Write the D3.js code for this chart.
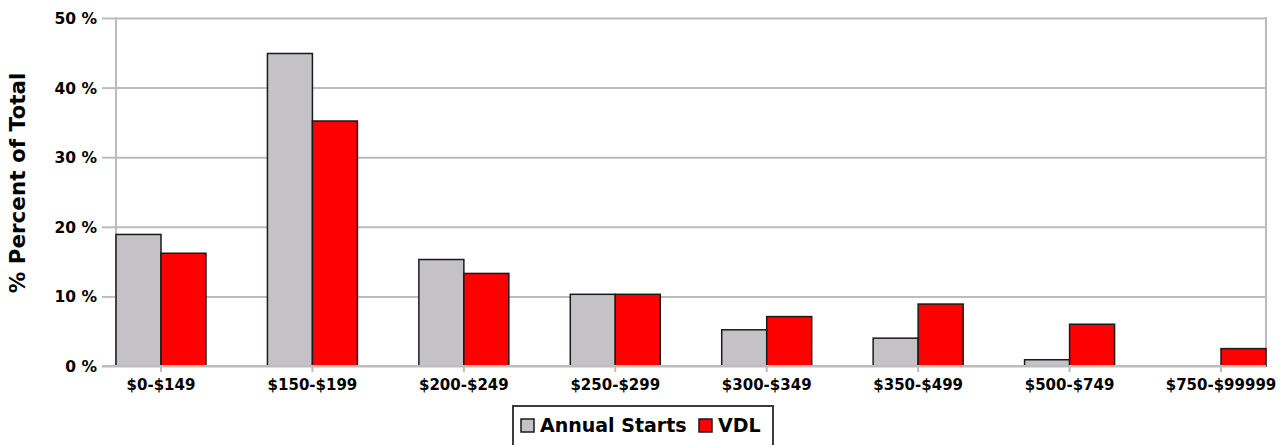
<!DOCTYPE html>
<html>
<head>
<meta charset="utf-8">
<script src="https://cdn.jsdelivr.net/npm/d3@7"></script>
<style>
  html, body { margin: 0; padding: 0; background: #fff; }
  svg { display: block; }
  text { font-family: "DejaVu Sans", Verdana, sans-serif; font-weight: bold; fill: #000; }
</style>
</head>
<body>
<svg id="chart" width="1284" height="445"></svg>
<script>
const categories = ["$0-$149", "$150-$199", "$200-$249", "$250-$299", "$300-$349", "$350-$499", "$500-$749", "$750-$99999"];
const seriesNames = ["Annual Starts", "VDL"];
const annualStarts = [18.9, 44.9, 15.3, 10.3, 5.2, 4.0, 0.9, 0];
const vdl = [16.2, 35.2, 13.3, 10.3, 7.1, 8.9, 6.0, 2.5];
const yTicks = [0, 10, 20, 30, 40, 50];
const seriesColors = ["#c4c2c6", "#ff0000"];

(function () {
const svg = d3.select("#chart");
const W = 1284, H = 445;
svg.append("rect").attr("width", W).attr("height", H).attr("fill", "#fff");

const pLeft = 116, pRight = 1266, pTop = 18, pBottom = 366;

const x0 = d3.scaleBand().domain(categories).range([pLeft, pRight])
  .paddingInner(0.4057).paddingOuter(0);
const x1 = d3.scaleBand().domain(seriesNames).range([0, x0.bandwidth()]).padding(0);
const y = d3.scaleLinear().domain([0, 50]).range([pBottom, pTop]);

const gridColor = "#bcbcbc";

// gridlines with outward ticks
const yAxis = svg.append("g").attr("transform", `translate(${pLeft},0)`)
  .call(d3.axisLeft(y).tickValues(yTicks).tickSize(14).tickPadding(5).tickFormat(d => d + " %"));
yAxis.select(".domain").remove();
yAxis.selectAll(".tick line").attr("stroke", gridColor).attr("stroke-width", 2)
  .attr("x2", -14);
yAxis.selectAll(".tick").append("line")
  .attr("x1", 0).attr("x2", pRight - pLeft)
  .attr("stroke", gridColor).attr("stroke-width", 2);
yAxis.selectAll(".tick text").style("font-size", "15.5px").attr("x", -19).attr("dy", "0.36em");

// frame: left axis line and right border
svg.append("line").attr("x1", pLeft).attr("x2", pLeft).attr("y1", pTop - 1).attr("y2", pBottom + 1)
  .attr("stroke", gridColor).attr("stroke-width", 2);
svg.append("line").attr("x1", pRight).attr("x2", pRight).attr("y1", pTop - 1).attr("y2", pBottom + 1)
  .attr("stroke", gridColor).attr("stroke-width", 2);

// bars
const data = categories.map((c, i) => ({ cat: c, vals: [annualStarts[i], vdl[i]] }));
const groups = svg.append("g").selectAll("g").data(data).join("g")
  .attr("transform", d => `translate(${x0(d.cat)},0)`);
groups.selectAll("rect")
  .data(d => d.vals.map((v, j) => ({ name: seriesNames[j], v, j })).filter(e => e.v > 0))
  .join("rect")
  .attr("x", e => x1(e.name))
  .attr("width", x1.bandwidth())
  .attr("y", e => y(e.v))
  .attr("height", e => y(0) - y(e.v))
  .attr("fill", e => seriesColors[e.j])
  .attr("stroke", "#1a1a1a")
  .attr("stroke-width", 1.5);

// x axis
const xAxis = svg.append("g").attr("transform", `translate(0,${pBottom})`)
  .call(d3.axisBottom(x0).tickSize(6).tickPadding(5));
xAxis.select(".domain").attr("stroke", gridColor).attr("stroke-width", 2)
  .attr("d", `M${pLeft - 14},0H${pRight}`);
xAxis.selectAll(".tick line").attr("stroke", gridColor).attr("stroke-width", 2);
xAxis.selectAll(".tick text").style("font-size", "15px").attr("dy", "0.85em");

// y axis title
svg.append("text")
  .attr("transform", `translate(25,183) rotate(-90)`)
  .attr("text-anchor", "middle")
  .style("font-size", "21.5px")
  .text("% Percent of Total");

// legend
const lg = svg.append("g");
lg.append("rect").attr("x", 513).attr("y", 406).attr("width", 260).attr("height", 46)
  .attr("fill", "#fff").attr("stroke", "#3c3c3c").attr("stroke-width", 2);
const legendItems = [
  { name: seriesNames[0], color: seriesColors[0], sx: 521, tx: 540 },
  { name: seriesNames[1], color: seriesColors[1], sx: 699, tx: 718 }
];
legendItems.forEach(it => {
  lg.append("rect").attr("x", it.sx).attr("y", 419).attr("width", 13).attr("height", 13)
    .attr("fill", it.color).attr("stroke", "#1a1a1a").attr("stroke-width", 1.5);
  lg.append("text").attr("x", it.tx).attr("y", 432).style("font-size", "19px").text(it.name);
});
})();
</script>
</body>
</html>
